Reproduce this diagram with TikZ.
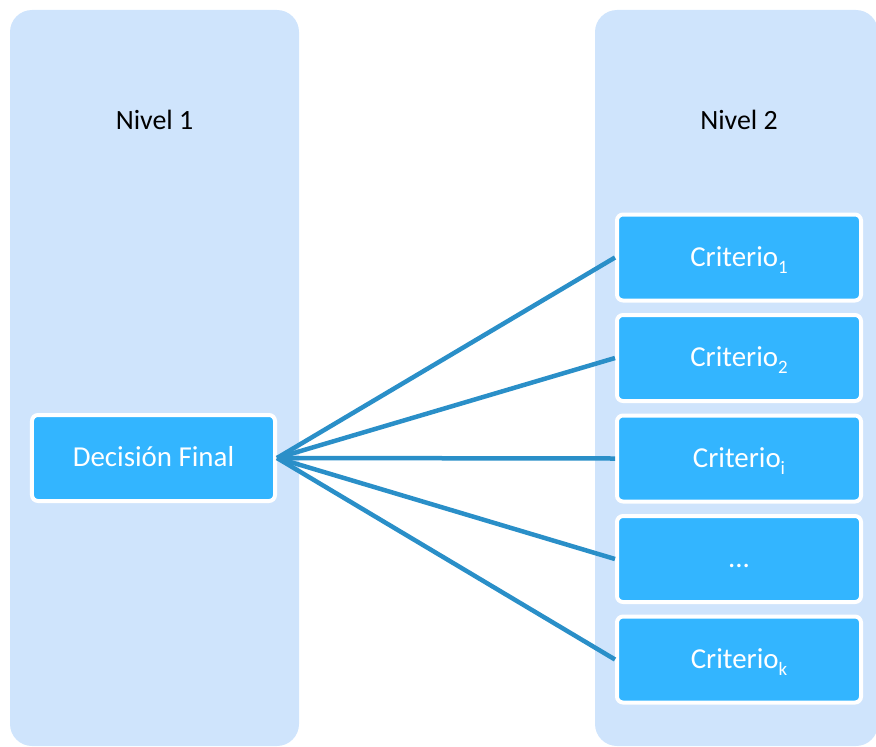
\documentclass[tikz,border=0pt]{standalone}
\usepackage{fontspec}
\setmainfont{Carlito}
\usepackage{tikz}
\usetikzlibrary{positioning}

\definecolor{colfill}{HTML}{CFE4FC}
\definecolor{boxfill}{HTML}{33B5FF}
\definecolor{linkcol}{HTML}{2A8FC8}
% small lowered index after "Criterio"
\newcommand{\idx}[1]{\raisebox{-0.25em}{\fontsize{19}{19}\selectfont #1}}

\begin{document}
\begin{tikzpicture}[x=1bp,y=-1bp,node distance=10.5bp]
      \tikzstyle{lvl}=[fill=colfill,rounded corners=22bp]
      \tikzstyle{crit}=[rectangle,draw=white,line width=4bp,fill=boxfill,rounded corners=6bp,
        minimum width=244bp,minimum height=86bp,inner sep=0pt,text=white,
        text height=20bp,text depth=3bp,font=\fontsize{29}{32}\selectfont]
      \tikzstyle{link}=[draw=linkcol,line width=4.5bp]
      \useasboundingbox (0,0) rectangle (876,747);
      \clip (0,0) rectangle (876,747);
      % the two level columns
      \fill[lvl] (10,10) rectangle (299,746);
      \fill[lvl] (595,10) rectangle (878,746);
      \node[font=\fontsize{28}{30}\selectfont] (n1) at (154.5,120) {Nivel 1};
      \node[font=\fontsize{28}{30}\selectfont] (n2) at (739,120) {Nivel 2};
      % boxes
      \node[crit,minimum width=243bp] (d) at (153.5,458) {Decisión Final};
      \node[crit] (c1) at (739,257.5) {Criterio\idx{1}};
      \node[crit,below=of c1] (c2) {Criterio\idx{2}};
      \node[crit,below=of c2] (ci) {Criterio\idx{i}};
      \node[crit,below=of ci] (cd) {...};
      \node[crit,below=of cd] (ck) {Criterio\idx{k}};
      \foreach \c in {c1,c2,ci,cd,ck}
        \draw[link] (d.east) -- (\c.west);
    \end{tikzpicture}
\end{document}
